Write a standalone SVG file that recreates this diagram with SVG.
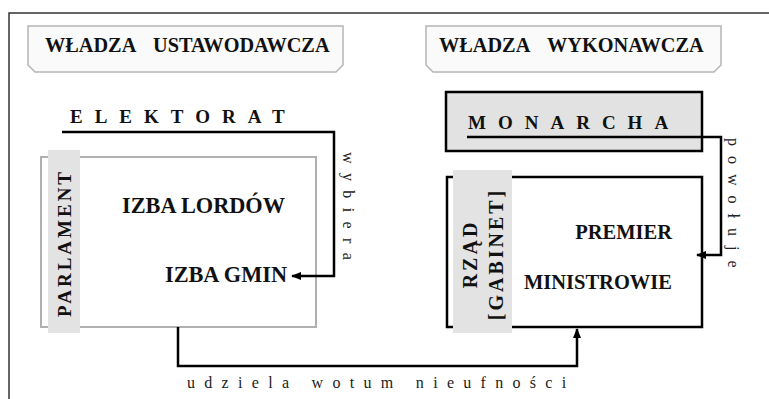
<svg xmlns="http://www.w3.org/2000/svg" width="769" height="399" viewBox="0 0 769 399">
<defs>
<style>
.hdr{fill:#fafafa;stroke:#b5b5b5;stroke-width:1.5}
.b{font-family:"Liberation Serif","Times New Roman",serif;font-weight:bold;fill:#111}
.r{font-family:"Liberation Serif","Times New Roman",serif;fill:#222}
.band{fill:#e3e3e3}
.con{fill:none;stroke:#000;stroke-width:2.5}
</style>
<marker id="ah" markerUnits="userSpaceOnUse" markerWidth="10" markerHeight="8" viewBox="0 0 10 8" refX="9" refY="4" orient="auto">
<path d="M0,0 L10,4 L0,8 Z" fill="#000"/>
</marker>
</defs>
<rect width="769" height="399" fill="#fff"/>
<path d="M9,399 V13 H769" fill="none" stroke="#333" stroke-width="1.5"/>

<g id="hdr-ustawodawcza">
<path class="hdr" d="M28,26 H343 V65 L336,72 H35 L28,65 Z"/>
<text class="b" font-size="20.3" y="52"><tspan x="45">WŁADZA</tspan><tspan x="153">USTAWODAWCZA</tspan></text>
</g>
<g id="hdr-wykonawcza">
<path class="hdr" d="M426,26 H721 V65 L714,72 H433 L426,65 Z"/>
<text class="b" font-size="20.3" y="52"><tspan x="439">WŁADZA</tspan><tspan x="547">WYKONAWCZA</tspan></text>
</g>

<g id="elektorat">
<text class="b" font-size="19" x="70" y="123" letter-spacing="12">ELEKTORAT</text>
</g>

<g id="parlament">
<rect x="41" y="157" width="275" height="170" fill="none" stroke="#b0b0b0" stroke-width="2"/>
<rect class="band" x="48" y="150" width="32" height="183"/>
<text class="b" font-size="19" letter-spacing="3" transform="translate(71,317) rotate(-90)">PARLAMENT</text>
<text class="b" font-size="22.3" x="285" y="213" text-anchor="end">IZBA LORDÓW</text>
<text class="b" font-size="22.3" x="287" y="282" text-anchor="end">IZBA GMIN</text>
</g>

<g id="monarcha">
<rect x="446" y="92" width="256" height="59" fill="#e2e2e2" stroke="#000" stroke-width="2.5"/>
<text class="b" font-size="19" x="468" y="129" letter-spacing="12">MONARCHA</text>
</g>

<g id="rzad">
<rect x="447" y="177" width="255" height="150" fill="#fff" stroke="#000" stroke-width="2.5"/>
<rect class="band" x="453" y="170" width="59" height="163"/>
<text class="b" font-size="20" letter-spacing="3" text-anchor="middle" transform="translate(477,254) rotate(-90)">RZĄD</text>
<text class="b" font-size="20" letter-spacing="3" text-anchor="middle" transform="translate(503,254) rotate(-90)">[GABINET]</text>
<text class="b" font-size="20.5" x="672" y="239" text-anchor="end">PREMIER</text>
<text class="b" font-size="20.5" x="672" y="289" text-anchor="end">MINISTROWIE</text>
</g>

<g id="connectors">
<path class="con" d="M62,132 H334 V276 H292" marker-end="url(#ah)"/>
<path class="con" d="M467,137 H721 V255 H697" marker-end="url(#ah)"/>
<path class="con" d="M178,327 V366 H577 V329" marker-end="url(#ah)"/>
<text class="r" font-size="16" letter-spacing="9.4" transform="translate(343,152) rotate(90)">wybiera</text>
<text class="r" font-size="16" letter-spacing="10" transform="translate(728,138) rotate(90)">powołuje</text>
<text class="r" font-size="16" letter-spacing="9.3" x="187" y="388">udziela wotum nieufności</text>
</g>
</svg>
